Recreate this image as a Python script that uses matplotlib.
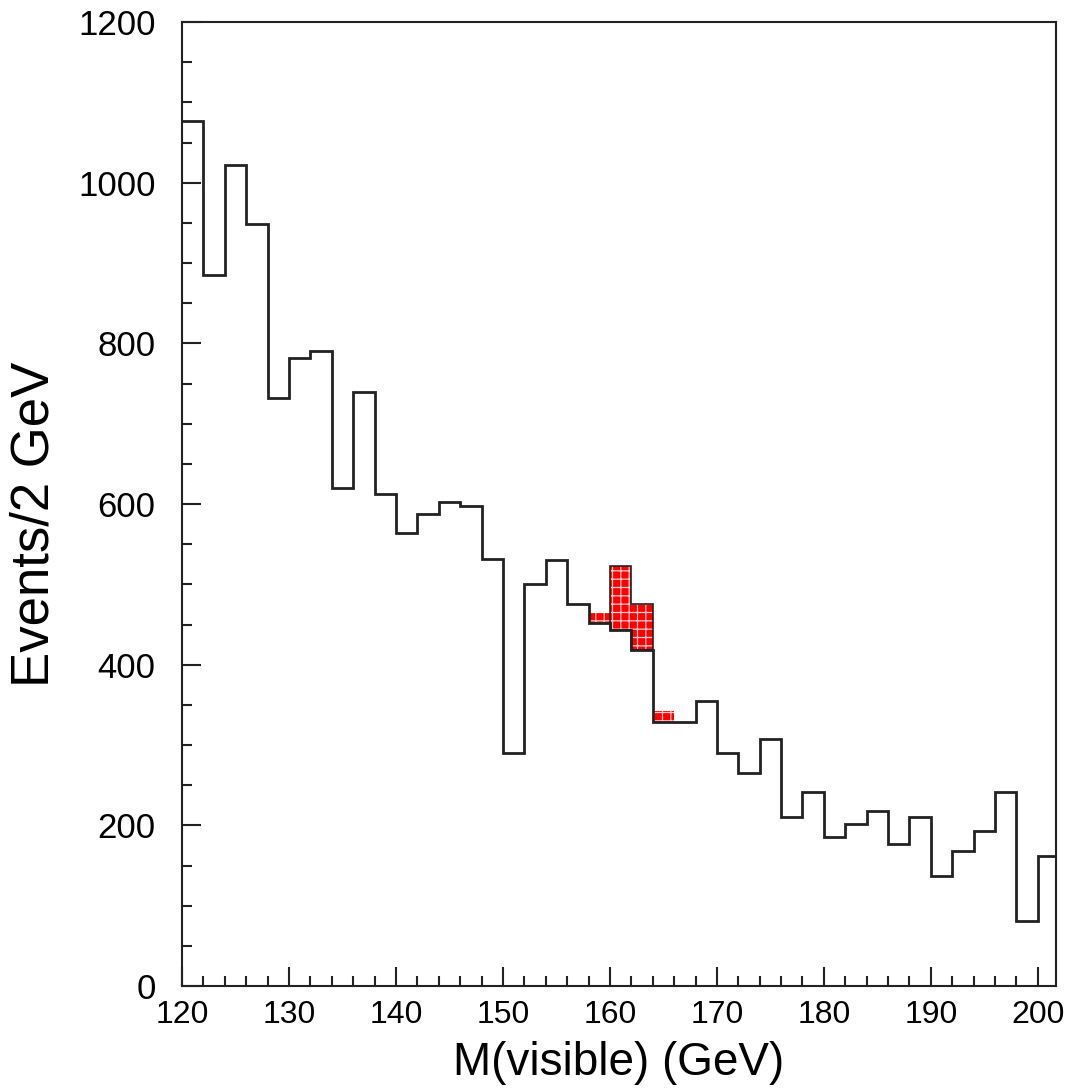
import numpy as np
import matplotlib
matplotlib.use("Agg")
import matplotlib.pyplot as plt

plt.rcParams['font.family'] = ['Liberation Sans', 'DejaVu Sans']
plt.rcParams['hatch.linewidth'] = 0.9

# 2 GeV bins from 120 to 202
bin_lo = 120
bin_hi = 202
bin_w = 2

background = [1077, 885, 1022, 949, 732, 782, 790, 620, 740, 612,
              564, 587, 603, 597, 531, 290, 500, 530, 475, 452,
              443, 418, 329, 329, 355, 290, 265, 307, 210, 242,
              185, 202, 218, 177, 210, 137, 168, 193, 242, 81,
              162]

signal_bins = [158, 160, 162, 164]
signal = [12, 80, 57, 13]

edges = np.arange(bin_lo, bin_hi + bin_w, bin_w)
bg = np.array(background, dtype=float)

fig = plt.figure(figsize=(10.79, 10.90), dpi=100)
ax = fig.add_axes([0.1687, 0.0954, 0.9787 - 0.1687, 0.9798 - 0.0954])

# signal stacked on top of background
sig_edges = np.append(signal_bins, signal_bins[-1] + bin_w)
sig_idx = [(b - bin_lo) // bin_w for b in signal_bins]
sig_base = bg[sig_idx]
sig_top = sig_base + np.array(signal)
ax.stairs(sig_top, sig_edges, baseline=sig_base, fill=True,
          facecolor='#ff0000', edgecolor='#ffc8c8', linewidth=0,
          hatch='++', zorder=2)
# outline only around the two tall bins, as in the original
ax.stairs(sig_top[1:3], sig_edges[1:4], baseline=sig_base[1:3], color='#222222',
          linewidth=1.2, zorder=3)

ax.stairs(bg, edges, baseline=None, color='#222222', linewidth=2.0, zorder=4)

ax.set_xlim(120, 201.7)
ax.set_ylim(0, 1200)
ax.set_xticks(np.arange(120, 201, 10))
ax.set_xticks(np.arange(120, 202, 2), minor=True)
ax.set_yticks(np.arange(0, 1201, 200))
ax.set_yticks(np.arange(0, 1201, 50), minor=True)

ax.tick_params(which='both', direction='in', top=False, right=False,
               width=1.5, color='#222222')
ax.tick_params(which='major', length=14, labelsize=23, pad=10)
ax.tick_params(axis='y', which='major', labelsize=25, pad=19)
ax.tick_params(which='minor', length=7.5)

for s in ax.spines.values():
    s.set_linewidth(1.5)
    s.set_color('#222222')

ax.set_xlabel('M(visible) (GeV)', fontsize=33, labelpad=8)
ax.set_ylabel('Events/2 GeV', fontsize=38)
ax.yaxis.set_label_coords(-0.140, 0.479)

fig.savefig('out.png', dpi=100)
